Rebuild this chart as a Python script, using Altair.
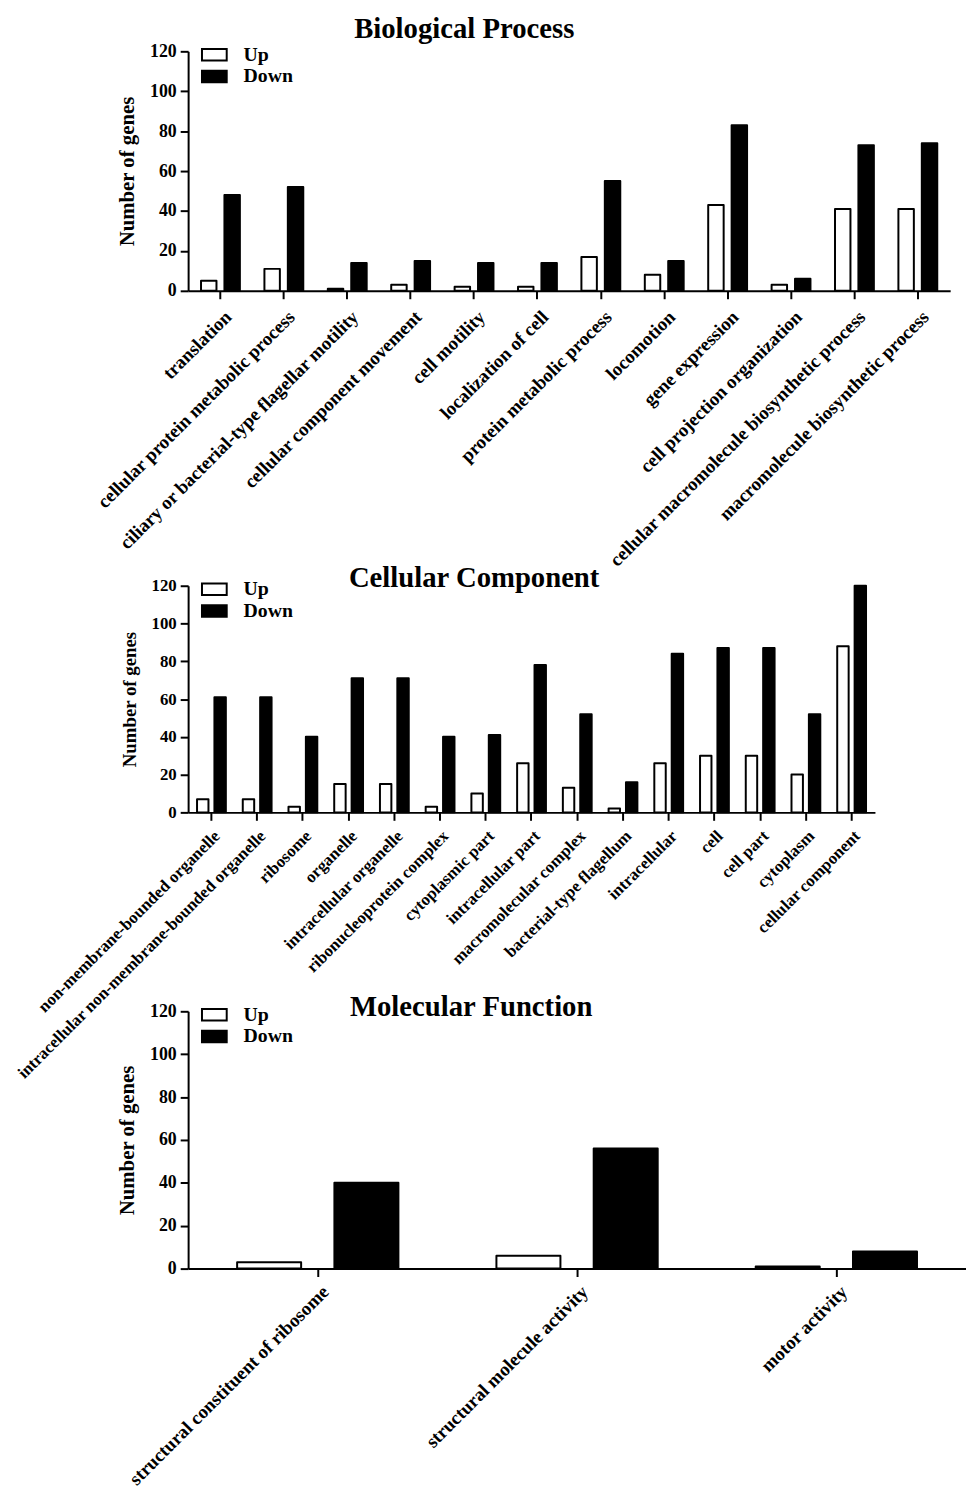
import altair as alt
import pandas as pd

FONT = "Liberation Serif"

bp_categories = [
    "translation", "cellular protein metabolic process",
    "ciliary or bacterial-type flagellar motility", "cellular component movement",
    "cell motility", "localization of cell", "protein metabolic process",
    "locomotion", "gene expression", "cell projection organization",
    "cellular macromolecule biosynthetic process", "macromolecule biosynthetic process",
]
bp_up = [5, 11, 1, 3, 2, 2, 17, 8, 43, 3, 41, 41]
bp_down = [48, 52, 14, 15, 14, 14, 55, 15, 83, 6, 73, 74]

cc_categories = [
    "non-membrane-bounded organelle", "intracellular non-membrane-bounded organelle",
    "ribosome", "organelle", "intracellular organelle", "ribonucleoprotein complex",
    "cytoplasmic part", "intracellular part", "macromolecular complex",
    "bacterial-type flagellum", "intracellular", "cell", "cell part", "cytoplasm",
    "cellular component",
]
cc_up = [7, 7, 3, 15, 15, 3, 10, 26, 13, 2, 26, 30, 30, 20, 88]
cc_down = [61, 61, 40, 71, 71, 40, 41, 78, 52, 16, 84, 87, 87, 52, 120]

mf_categories = [
    "structural constituent of ribosome", "structural molecule activity", "motor activity",
]
mf_up = [3, 6, 1]
mf_down = [40, 56, 8]

directions = ["Up", "Down"]
y_ticks = [0, 20, 40, 60, 80, 100, 120]


def panel(title, cats, up, down, width, height, pi, po, pi2, tdx, tdy, lx, ly,
          xfs, yfs, xpad, xoff, ytfs, ytpad):
    n = len(cats)
    df = pd.DataFrame({
        "category": cats * 2,
        "direction": ["Up"] * n + ["Down"] * n,
        "genes": up + down,
    })
    return alt.Chart(df).mark_bar(
        stroke="black", strokeWidth=2, strokeJoin="round"
    ).encode(
        x=alt.X("category:N", sort=cats,
                scale=alt.Scale(paddingInner=pi, paddingOuter=po),
                axis=alt.Axis(title=None, labelAngle=-45, labelAlign="right",
                              labelBaseline="middle", labelPadding=xpad,
                              labelOffset=xoff, labelFontSize=xfs, labelLimit=1000)),
        xOffset=alt.XOffset("direction:N", sort=directions,
                            scale=alt.Scale(paddingInner=pi2)),
        y=alt.Y("genes:Q", scale=alt.Scale(domain=[0, 120], nice=False),
                axis=alt.Axis(values=y_ticks, title="Number of genes",
                              labelFontSize=yfs, labelPadding=4,
                              titleFontSize=ytfs, titlePadding=ytpad)),
        fill=alt.Fill("direction:N", sort=directions,
                      scale=alt.Scale(domain=directions, range=["white", "black"]),
                      legend=alt.Legend(title=None, orient="none", legendX=lx, legendY=ly,
                                        symbolType="M-1.19,-0.55H1.19V0.55H-1.19Z",
                                        symbolSize=441, symbolStrokeColor="black",
                                        symbolStrokeWidth=2, labelFont=FONT,
                                        labelFontSize=20, labelFontWeight="bold",
                                        labelColor="black", labelOffset=18,
                                        rowPadding=0, padding=0)),
    ).properties(
        width=width, height=height,
        title=alt.TitleParams(text=title, font=FONT, fontSize=29, fontWeight="bold",
                              color="black", anchor="middle", frame="group",
                              baseline="alphabetic", offset=0, dx=tdx, dy=tdy),
    )


def spacer(h):
    return alt.Chart(pd.DataFrame({"s": [0]})).mark_point(opacity=0).encode(
        x=alt.value(0), y=alt.value(0)
    ).properties(width=10, height=h)


bp = panel("Biological Process", bp_categories, bp_up, bp_down,
           770, 242, 0.387, 0.2035, 0.34, -106, 25, 15, -8, 19, 18, 15, 8, 21, 12)
cc = panel("Cellular Component", cc_categories, cc_up, cc_down,
           694, 229, 0.37, 0.195, 0.343, -58, 39, 15, -8, 17, 17, 13, 6, 19, 12)
mf = panel("Molecular Function", mf_categories, mf_up, mf_down,
           786, 260, 0.378, 0.189, 0.342, -107, 43, 15, -8, 19, 18, 12, 8, 21, 12)

chart = alt.vconcat(
    bp, spacer(298), cc, spacer(201), mf, spacing=0, bounds="flush"
).resolve_scale(
    fill="independent", xOffset="independent"
).resolve_legend(
    fill="independent"
).properties(
    padding={"left": 5, "top": 0, "right": 0, "bottom": 0}
).configure(
    font=FONT,
).configure_view(
    stroke=None
).configure_axis(
    grid=False,
    domainColor="black", domainWidth=2,
    tickColor="black", tickWidth=2, tickSize=8,
    labelFont=FONT, labelFontWeight="bold", labelFontSize=16, labelColor="black",
    titleFont=FONT, titleFontWeight="bold", titleFontSize=17, titleColor="black",
)

chart.save("out.html", embed_options={"renderer": "svg", "actions": False})
